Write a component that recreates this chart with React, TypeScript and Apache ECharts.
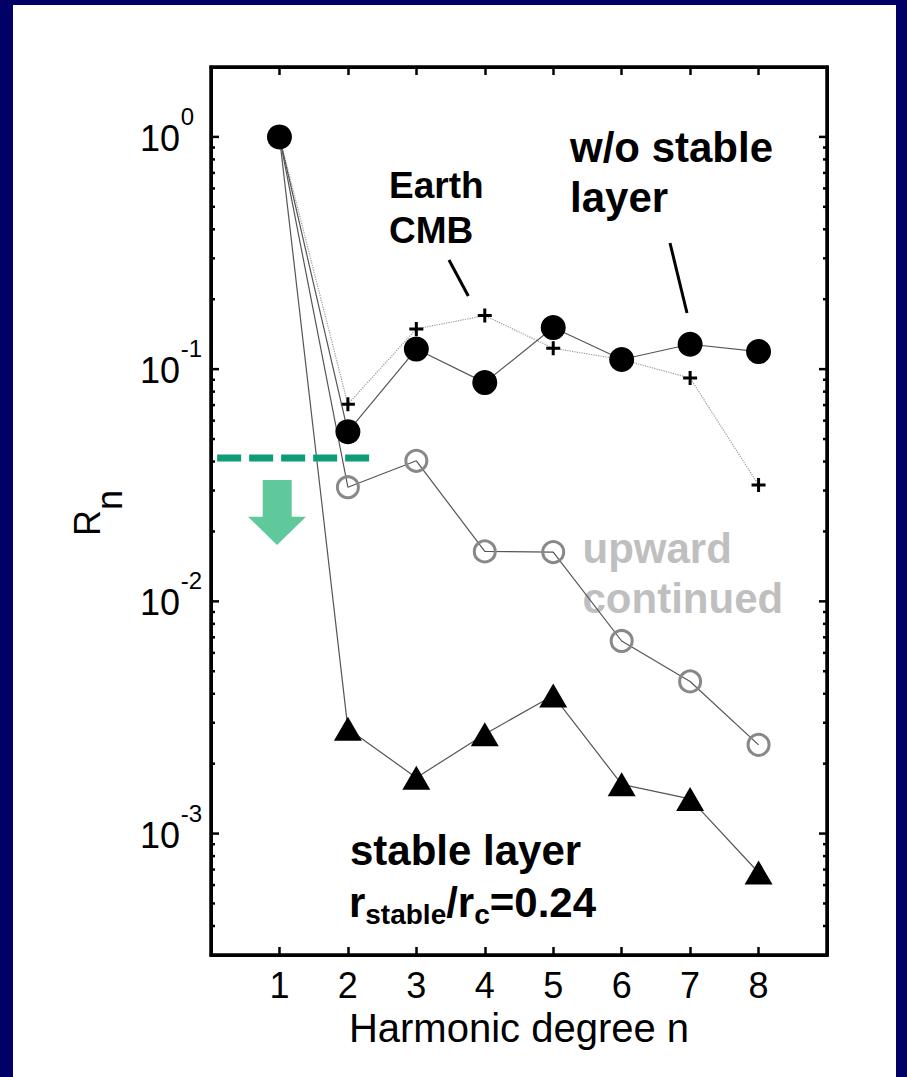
import React, { useEffect, useRef } from "react";
import * as echarts from "echarts";

// Harmonic degree n and the ratio R_n for each model
const degrees = [1, 2, 3, 4, 5, 6, 7, 8];
const withoutStableLayer = [1.0, 0.0538, 0.122, 0.0875, 0.151, 0.11, 0.128, 0.119];
const earthCMB = [1.0, 0.0706, 0.149, 0.17, 0.123, 0.11, 0.0915, 0.0317];
const upwardContinued = [1.0, 0.031, 0.0403, 0.0164, 0.0163, 0.00675, 0.00452, 0.00241];
const stableLayer = [1.0, 0.00283, 0.00174, 0.00268, 0.00393, 0.00163, 0.00141, 0.00068];

// Detection threshold (dashed green line) and its extent along n
const thresholdLevel = 0.0414;
const thresholdSpan = [0.09, 2.31];

// Axis ranges and tick marks
const xMin = 0;
const xMax = 9;
const yMin = 3e-4;
const yMax = 2;
const xTickLabels = ["1", "2", "3", "4", "5", "6", "7", "8"];
const decadeExponents = [0, -1, -2, -3];
const minorMultipliers = [2, 3, 4, 5, 6, 7, 8, 9];
const minorDecades = [-4, -3, -2, -1, 0];

const FONT = '"Liberation Sans", Arial, Helvetica, sans-serif';
const NAVY = "#000066";

function textStyle(
  text: string,
  size: number,
  opts: { bold?: boolean; fill?: string; align?: string; vAlign?: string } = {}
) {
  const align = opts.align || "left";
  const vAlign = opts.vAlign || "middle";
  return {
    text,
    fontSize: size,
    fontFamily: FONT,
    fontWeight: opts.bold ? "bold" : "normal",
    fill: opts.fill || "#000",
    align,
    verticalAlign: vAlign,
    textAlign: align,
    textVerticalAlign: vAlign,
  };
}

function seriesData(values: number[]) {
  return degrees.map((n, i) =>
    i === 0 ? { value: [n, values[i]], symbol: "none" } : [n, values[i]]
  );
}

function buildOption() {
  const majorTicks = decadeExponents.map((k) => [xMin, Math.pow(10, k), 1]);
  const minorTicks: number[][] = [];
  minorDecades.forEach((k) =>
    minorMultipliers.forEach((m) => {
      const v = m * Math.pow(10, k);
      if (v > yMin * 1.001 && v < yMax * 0.999) minorTicks.push([xMin, v, 0]);
    })
  );

  const axisLineStyle = { color: "#000", width: 3 };
  const tickStyle = { color: "#000", width: 2.5 };

  const sub = (x: number, y: number, text: string, size: number) => ({
    type: "text",
    x,
    y,
    z: 50,
    style: textStyle(text, size, { bold: true }),
  });

  return {
    animation: false,
    backgroundColor: "transparent",
    grid: {
      left: 211,
      right: 80,
      top: 67,
      bottom: 122,
      containLabel: false,
      show: true,
      borderColor: "#000",
      borderWidth: 3.5,
      backgroundColor: "transparent",
    },
    xAxis: [
      {
        type: "value",
        min: xMin,
        max: xMax,
        interval: 1,
        position: "bottom",
        axisLine: { show: true, onZero: false, lineStyle: axisLineStyle },
        axisTick: { show: true, inside: true, length: 8, lineStyle: tickStyle },
        axisLabel: {
          margin: 12,
          fontSize: 36,
          fontFamily: FONT,
          color: "#000",
          formatter: (v: number) => (v >= 1 && v <= 8 ? xTickLabels[v - 1] : ""),
        },
        splitLine: { show: false },
        name: "Harmonic degree n",
        nameLocation: "middle",
        nameGap: 50,
        nameTextStyle: { fontSize: 40, fontFamily: FONT, color: "#000" },
      },
      {
        type: "value",
        min: xMin,
        max: xMax,
        interval: 1,
        position: "top",
        axisLine: { show: true, onZero: false, lineStyle: axisLineStyle },
        axisTick: { show: true, inside: true, length: 8, lineStyle: tickStyle },
        axisLabel: { show: false },
        splitLine: { show: false },
      },
    ],
    yAxis: [
      {
        type: "log",
        logBase: 10,
        min: yMin,
        max: yMax,
        position: "left",
        axisLine: { show: true, onZero: false, lineStyle: axisLineStyle },
        axisTick: { show: false },
        axisLabel: { show: false },
        splitLine: { show: false },
      },
      {
        type: "log",
        logBase: 10,
        min: yMin,
        max: yMax,
        position: "right",
        axisLine: { show: true, onZero: false, lineStyle: axisLineStyle },
        axisTick: { show: false },
        axisLabel: { show: false },
        splitLine: { show: false },
      },
    ],
    series: [
      {
        name: "stable layer",
        type: "line",
        data: seriesData(stableLayer),
        symbol: "triangle",
        symbolSize: [28, 24],
        itemStyle: { color: "#000" },
        lineStyle: { color: "#555", width: 1.2 },
        z: 3,
      },
      {
        name: "upward continued",
        type: "line",
        data: seriesData(upwardContinued),
        symbol: "circle",
        symbolSize: 21,
        itemStyle: { color: "rgba(0,0,0,0)", borderColor: "#888", borderWidth: 3 },
        lineStyle: { color: "#555", width: 1.2 },
        z: 3,
      },
      {
        name: "Earth CMB",
        type: "line",
        data: seriesData(earthCMB),
        symbol: "path://M5.5,0H8.5V5.5H14V8.5H8.5V14H5.5V8.5H0V5.5H5.5Z",
        symbolSize: 14,
        itemStyle: { color: "#000" },
        lineStyle: { color: "#999", width: 1.2, type: "dotted" },
        z: 4,
      },
      {
        name: "w/o stable layer",
        type: "line",
        data: degrees.map((n, i) => [n, withoutStableLayer[i]]),
        symbol: "circle",
        symbolSize: 25,
        itemStyle: { color: "#000" },
        lineStyle: { color: "#555", width: 1.2 },
        z: 5,
      },
      {
        name: "threshold",
        type: "line",
        data: thresholdSpan.map((x) => [x, thresholdLevel]),
        symbol: "none",
        lineStyle: { color: "#0f9b77", width: 7, type: [24, 8] },
        z: 8,
      },
      {
        name: "y ticks",
        type: "custom",
        data: [...majorTicks, ...minorTicks],
        encode: { x: 0, y: 1 },
        clip: false,
        silent: true,
        z: 6,
        renderItem: (_params: any, api: any) => {
          const v = api.value(1);
          const len = api.value(2) === 1 ? 8 : 4;
          const l = api.coord([xMin, v]);
          const r = api.coord([xMax, v]);
          const style = { stroke: "#000", lineWidth: 2.5 };
          return {
            type: "group",
            children: [
              { type: "line", shape: { x1: l[0], y1: l[1], x2: l[0] + len, y2: l[1] }, style },
              { type: "line", shape: { x1: r[0] - len, y1: r[1], x2: r[0], y2: r[1] }, style },
            ],
          };
        },
      },
      {
        name: "y labels",
        type: "custom",
        data: majorTicks.map((t, i) => [t[0], t[1], decadeExponents[i]]),
        encode: { x: 0, y: 1 },
        clip: false,
        silent: true,
        z: 6,
        renderItem: (_params: any, api: any) => {
          const p = api.coord([xMin, api.value(1)]);
          const k = api.value(2);
          return {
            type: "group",
            children: [
              {
                type: "text",
                x: p[0] - 31,
                y: p[1] + 1.5,
                style: textStyle("10", 36, { align: "right" }),
              },
              {
                type: "text",
                x: p[0] - 30.3,
                y: p[1] - 20.5,
                style: textStyle(String(k), 24),
              },
            ],
          };
        },
      },
    ],
    graphic: [
      // y-axis title R_n
      { type: "text", x: 87.5, y: 536, rotation: Math.PI / 2, style: textStyle("R", 36) },
      { type: "text", x: 109.2, y: 510, rotation: Math.PI / 2, style: textStyle("n", 36) },
      // annotations
      { type: "text", x: 570, y: 147.5, style: textStyle("w/o stable", 42, { bold: true }) },
      { type: "text", x: 570, y: 197.5, style: textStyle("layer", 42, { bold: true }) },
      {
        type: "line",
        shape: { x1: 670, y1: 243, x2: 687, y2: 313 },
        style: { stroke: "#000", lineWidth: 3 },
      },
      { type: "text", x: 389, y: 185.8, style: textStyle("Earth", 37, { bold: true }) },
      { type: "text", x: 389, y: 230.8, style: textStyle("CMB", 37, { bold: true }) },
      {
        type: "line",
        shape: { x1: 449, y1: 260, x2: 468.3, y2: 296 },
        style: { stroke: "#000", lineWidth: 3 },
      },
      {
        type: "text",
        x: 582.5,
        y: 548.7,
        style: textStyle("upward", 42, { bold: true, fill: "#bfbfbf" }),
      },
      {
        type: "text",
        x: 582.5,
        y: 598.7,
        style: textStyle("continued", 42, { bold: true, fill: "#bfbfbf" }),
      },
      { type: "text", x: 350, y: 850.4, style: textStyle("stable layer", 42, { bold: true }) },
      sub(349, 902.1, "r", 42),
      sub(365.3, 914.8, "stable", 28),
      sub(446.2, 902.1, "/r", 42),
      sub(474.2, 914.8, "c", 28),
      sub(489.8, 902.1, "=0.24", 42),
      // downward arrow below the threshold
      {
        type: "polygon",
        z: 50,
        shape: {
          points: [
            [262.7, 480],
            [291.7, 480],
            [291.7, 516.7],
            [306, 516.7],
            [277, 545],
            [248, 516.7],
            [262.7, 516.7],
          ],
        },
        style: { fill: "#5fc99b" },
      },
    ],
  };
}

export default function App() {
  const ref = useRef<HTMLDivElement>(null);
  useEffect(() => {
    document.body.style.margin = "0";
    const chart = echarts.init(ref.current as HTMLDivElement, null, { renderer: "svg" });
    chart.setOption(buildOption() as any);
    return () => chart.dispose();
  }, []);
  return (
    <div
      style={{
        position: "relative",
        width: 907,
        height: 1077,
        background: NAVY,
        overflow: "hidden",
      }}
    >
      <div
        style={{ position: "absolute", left: 13, top: 5, right: 11, bottom: 0, background: "#fff" }}
      />
      <div ref={ref} style={{ position: "absolute", left: 0, top: 0, width: 907, height: 1077 }} />
    </div>
  );
}
